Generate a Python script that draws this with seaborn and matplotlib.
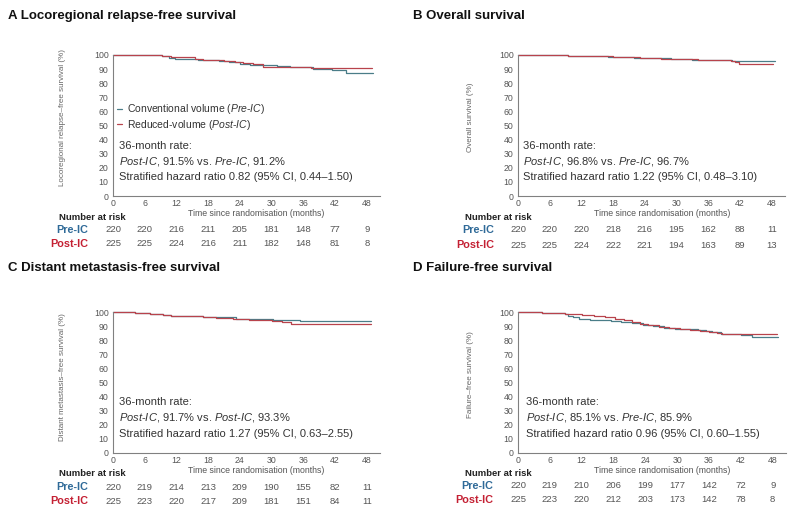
import numpy as np
import pandas as pd
import matplotlib
matplotlib.use("Agg")
import matplotlib.pyplot as plt
import seaborn as sns
from matplotlib.lines import Line2D
from matplotlib.transforms import blended_transform_factory

# ---------------- data ----------------
months_ticks = [0, 6, 12, 18, 24, 30, 36, 42, 48]

A_pre_t = [0, 9.3, 10.5, 11.8, 16, 18, 20, 22, 24, 26, 28.5, 31, 33.5, 36, 37.8, 41.5, 44, 49.1]
A_pre_s = [100, 99.2, 98.2, 97.0, 96.8, 96.2, 95.6, 94.8, 93.8, 93.2, 92.6, 92.0, 91.4, 91.2, 90.3, 89.1, 87.3, 87.3]
A_post_t = [0, 9.3, 11, 13, 15.5, 17, 19, 21, 23, 24.5, 26.5, 28.4, 36, 37.5, 48.9]
A_post_s = [100, 99.5, 98.8, 98.3, 97.5, 96.8, 96.2, 95.8, 95.0, 94.0, 93.4, 91.6, 91.5, 90.8, 90.8]

B_pre_t = [0, 9.5, 14.5, 17, 22, 26.5, 29, 33, 36, 40.5, 42.5, 48.6]
B_pre_s = [100, 99.6, 99.2, 98.7, 98.2, 97.7, 97.2, 96.8, 96.6, 95.9, 95.4, 95.4]
B_post_t = [0, 9.5, 15, 18, 23, 27, 30, 34, 40.2, 41, 41.8, 48.3]
B_post_s = [100, 99.5, 99.0, 98.5, 98.0, 97.5, 97.0, 96.7, 95.8, 94.8, 93.8, 93.8]

C_pre_t = [0, 4.2, 7, 9.5, 11, 17, 19, 23.3, 30.3, 35.3, 48.8]
C_pre_s = [100, 99.3, 98.8, 97.6, 97.1, 96.8, 96.3, 95.3, 94.6, 93.3, 93.3]
C_post_t = [0, 4.2, 7, 9.5, 11, 17, 19.5, 22.7, 25.8, 30, 32, 33.7, 48.8]
C_post_s = [100, 99.3, 98.8, 97.6, 97.1, 96.7, 95.8, 94.8, 94.0, 93.3, 92.6, 91.7, 91.7]

D_pre_t = [0, 4.5, 8.8, 9.5, 10.3, 11.5, 13.5, 17.5, 19.5, 21.5, 23.5, 25.5, 27.5, 29.5, 32, 34, 35.5, 36.5, 38.3, 42, 44, 49]
D_pre_s = [100, 99.5, 98.8, 97.5, 96.2, 95.2, 94.3, 93.8, 92.8, 92.0, 90.8, 89.8, 89.0, 88.2, 87.6, 87.2, 86.2, 85.5, 84.6, 84.0, 82.3, 82.3]
D_post_t = [0, 4.5, 8.8, 9.5, 12, 14.4, 16.4, 18.3, 20, 21.5, 23, 24.5, 26.5, 28.5, 30.5, 32.5, 34.3, 36, 37.5, 38.5, 48.8]
D_post_s = [100, 99.5, 98.8, 98.3, 97.6, 97.1, 96.2, 95.2, 94.0, 93.0, 91.8, 90.6, 89.6, 88.8, 88.0, 87.4, 86.6, 85.6, 85.0, 84.4, 84.4]

A_risk_pre = [220, 220, 216, 211, 205, 181, 148, 77, 9]
A_risk_post = [225, 225, 224, 216, 211, 182, 148, 81, 8]
B_risk_pre = [220, 220, 220, 218, 216, 195, 162, 88, 11]
B_risk_post = [225, 225, 224, 222, 221, 194, 163, 89, 13]
C_risk_pre = [220, 219, 214, 213, 209, 190, 155, 82, 11]
C_risk_post = [225, 223, 220, 217, 209, 181, 151, 84, 11]
D_risk_pre = [220, 219, 210, 206, 199, 177, 142, 72, 9]
D_risk_post = [225, 223, 220, 212, 203, 173, 142, 78, 8]

titles = ["A Locoregional relapse-free survival", "B Overall survival",
          "C Distant metastasis-free survival", "D Failure-free survival"]
ylabels = ["Locoregional relapse\u2013free survival (%)", "Overall survival (%)",
           "Distant metastasis\u2013free survival (%)", "Failure\u2013free survival (%)"]
notes = [
    ["36-month rate:", r"$\mathit{Post}$-$\mathit{IC}$, 91.5% vs. $\mathit{Pre}$-$\mathit{IC}$, 91.2%",
     "Stratified hazard ratio 0.82 (95% CI, 0.44\u20131.50)"],
    ["36-month rate:", r"$\mathit{Post}$-$\mathit{IC}$, 96.8% vs. $\mathit{Pre}$-$\mathit{IC}$, 96.7%",
     "Stratified hazard ratio 1.22 (95% CI, 0.48\u20133.10)"],
    ["36-month rate:", r"$\mathit{Post}$-$\mathit{IC}$, 91.7% vs. $\mathit{Post}$-$\mathit{IC}$, 93.3%",
     "Stratified hazard ratio 1.27 (95% CI, 0.63\u20132.55)"],
    ["36-month rate:", r"$\mathit{Post}$-$\mathit{IC}$, 85.1% vs. $\mathit{Pre}$-$\mathit{IC}$, 85.9%",
     "Stratified hazard ratio 0.96 (95% CI, 0.60\u20131.55)"],
]
legend_labels = [r"Conventional volume ($\mathit{Pre}$-$\mathit{IC}$)",
                 r"Reduced-volume ($\mathit{Post}$-$\mathit{IC}$)"]
group_names = ["Pre-IC", "Post-IC"]

curves = [(A_pre_t, A_pre_s, A_post_t, A_post_s),
          (B_pre_t, B_pre_s, B_post_t, B_post_s),
          (C_pre_t, C_pre_s, C_post_t, C_post_s),
          (D_pre_t, D_pre_s, D_post_t, D_post_s)]
risks = [(A_risk_pre, A_risk_post), (B_risk_pre, B_risk_post),
         (C_risk_pre, C_risk_post), (D_risk_pre, D_risk_post)]

# ---------------- styling ----------------
sns.set_theme(style="white")
plt.rcParams["font.family"] = ["Liberation Sans", "DejaVu Sans"]
plt.rcParams["mathtext.fontset"] = "custom"
plt.rcParams["mathtext.rm"] = "Liberation Sans"
plt.rcParams["mathtext.it"] = "Liberation Sans:italic"
plt.rcParams["mathtext.bf"] = "Liberation Sans:bold"

PRE_COL = "#4a7d88"
POST_COL = "#b8434c"
PRE_LBL = "#2f6a98"
POST_LBL = "#c42033"
AX_COL = "#808080"

W, H = 800, 516
fig = plt.figure(figsize=(8, 5.16), dpi=100)
fig.patch.set_facecolor("white")

def fx(x):
    return x / W

def fy(y):
    return 1 - y / H

# panel layout in pixels
layout = [
    dict(L=113, T=55, R=380, B=196, tx=8, ty=16, ylx=63, yly=118, xlx=256, xly=213.5,
         nx=119, ny=(146, 162, 177), nar=(92, 217), grx=88, gry=(230, 244)),
    dict(L=518, T=55, R=785, B=196, tx=413, ty=16, ylx=470, yly=117, xlx=662, xly=213.5,
         nx=523, ny=(146, 162, 177), nar=(498, 217), grx=494, gry=(230, 245)),
    dict(L=113, T=312, R=380, B=453, tx=8, ty=268, ylx=63, yly=377, xlx=256, xly=470.5,
         nx=119, ny=(402, 418, 434), nar=(92, 473), grx=88, gry=(487, 501)),
    dict(L=518, T=312, R=786, B=453, tx=413, ty=268, ylx=470, yly=375, xlx=662, xly=470.5,
         nx=526, ny=(402, 418, 434), nar=(498, 473), grx=493, gry=(486, 500)),
]

for i, lay in enumerate(layout):
    ax = fig.add_axes([fx(lay["L"]), fy(lay["B"]), (lay["R"] - lay["L"]) / W,
                       (lay["B"] - lay["T"]) / H])
    pt, ps, qt, qs = curves[i]
    df_pre = pd.DataFrame({"t": pt, "s": ps})
    df_post = pd.DataFrame({"t": qt, "s": qs})
    sns.lineplot(data=df_pre, x="t", y="s", ax=ax, color=PRE_COL, lw=0.9,
                 drawstyle="steps-post", estimator=None, sort=False, clip_on=False)
    sns.lineplot(data=df_post, x="t", y="s", ax=ax, color=POST_COL, lw=0.9,
                 drawstyle="steps-post", estimator=None, sort=False, clip_on=False)
    ax.set_xlim(0, 50.5)
    ax.set_ylim(0, 100)
    ax.set_xticks(months_ticks)
    ax.set_yticks(range(0, 101, 10))
    ax.set_xlabel("")
    ax.set_ylabel("")
    for sp in ["top", "right"]:
        ax.spines[sp].set_visible(False)
    for sp in ["left", "bottom"]:
        ax.spines[sp].set_color(AX_COL)
        ax.spines[sp].set_linewidth(0.8)
    ax.tick_params(direction="out", length=2, width=0.6, color=AX_COL,
                   labelsize=6.3, labelcolor="#555555", pad=1.2)
    ax.tick_params(axis="x", pad=0.3)
    ax.set_facecolor("none")

    fig.text(fx(lay["tx"]), fy(lay["ty"]), titles[i], fontsize=9.5, fontweight="bold",
             color="#111111", ha="left", va="center")
    fig.text(fx(lay["ylx"]), fy(lay["yly"]), ylabels[i], fontsize=5.8, color="#666666",
             rotation=90, ha="center", va="center")
    fig.text(fx(lay["xlx"]), fy(lay["xly"]), "Time since randomisation (months)",
             fontsize=6.3, color="#555555", ha="center", va="center")

    for line, yy in zip(notes[i], lay["ny"]):
        fig.text(fx(lay["nx"]), fy(yy), line, fontsize=8, color="#333333",
                 ha="left", va="center")

    fig.text(fx(lay["nar"][0]), fy(lay["nar"][1]), "Number at risk", fontsize=6.8,
             fontweight="bold", color="#222222", ha="center", va="center")
    fig.text(fx(lay["grx"]), fy(lay["gry"][0]), group_names[0], fontsize=7.8,
             fontweight="bold", color=PRE_LBL, ha="right", va="center")
    fig.text(fx(lay["grx"]), fy(lay["gry"][1]), group_names[1], fontsize=7.8,
             fontweight="bold", color=POST_LBL, ha="right", va="center")
    trans = blended_transform_factory(ax.transData, fig.transFigure)
    rp, rq = risks[i]
    for t, a, b in zip(months_ticks, rp, rq):
        ax.text(t, fy(lay["gry"][0]), str(a), transform=trans, fontsize=6.8,
                color="#555555", ha="center", va="center", clip_on=False)
        ax.text(t, fy(lay["gry"][1]), str(b), transform=trans, fontsize=6.8,
                color="#555555", ha="center", va="center", clip_on=False)

    if i == 0:
        handles = [Line2D([0], [0], color=PRE_COL, lw=0.9),
                   Line2D([0], [0], color=POST_COL, lw=0.9)]
        ax.legend(handles, legend_labels, loc="upper left",
                  bbox_to_anchor=(fx(117), fy(102.5)), bbox_transform=fig.transFigure,
                  frameon=False, fontsize=7.5, handlelength=0.5, handletextpad=0.5,
                  labelspacing=0.12, borderpad=0, borderaxespad=0, labelcolor="#333333")

fig.savefig("out.png", dpi=100, facecolor="white")
